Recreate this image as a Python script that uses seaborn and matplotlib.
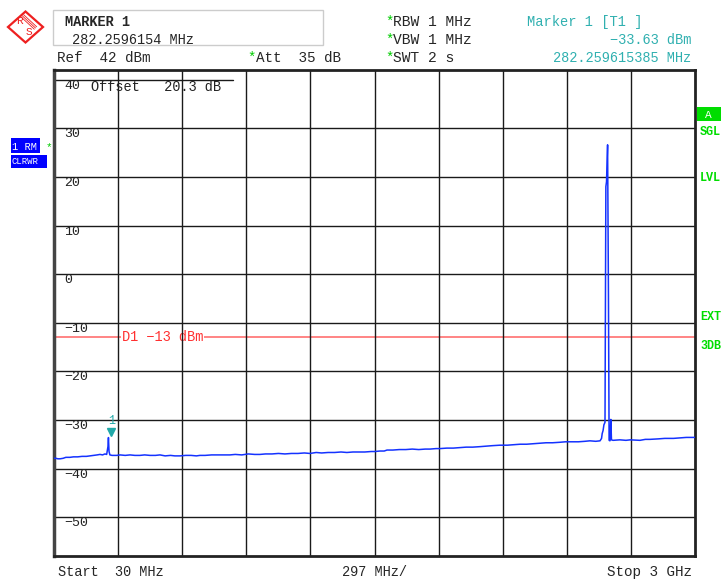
import numpy as np
import pandas as pd
import matplotlib
matplotlib.use("Agg")
import matplotlib.pyplot as plt
import matplotlib.transforms as mtransforms
from matplotlib.patches import Rectangle, Polygon
import seaborn as sns

# Spektrum verisi
freq_mhz = [30, 39, 48, 58, 72, 85, 104, 120, 140, 160, 180, 197, 215, 230, 243, 255, 266, 274,
            280, 282.26, 285, 289, 299, 320, 336, 360, 382, 405, 428, 450, 475, 500, 521, 545,
            570, 590, 614, 640, 665, 690, 706, 730, 760, 790, 820, 845, 870, 900, 930, 960,
            984, 1010, 1040, 1070, 1100, 1130, 1160, 1190, 1216, 1245, 1270, 1300, 1330, 1360,
            1387, 1415, 1440, 1470, 1500, 1517, 1540, 1560, 1573, 1600, 1630, 1660, 1690, 1720,
            1750, 1772, 1800, 1818, 1850, 1880, 1910, 1940, 1970, 2004, 2030, 2060, 2096, 2130,
            2160, 2190, 2220, 2250, 2282, 2310, 2340, 2374, 2400, 2430, 2460, 2490, 2513, 2540,
            2560, 2567, 2570, 2574, 2578, 2583, 2587, 2590, 2595, 2599, 2602, 2606, 2610, 2613,
            2620, 2652, 2680, 2700, 2745, 2770, 2791, 2830, 2860, 2900, 2930, 2960, 3000]
level_dbm = [-37.9, -37.9, -38.0, -38.0, -37.9, -37.7, -37.7, -37.6, -37.6, -37.5, -37.5, -37.4,
             -37.3, -37.2, -37.1, -37.2, -37.0, -37.1, -35.5, -33.63, -36.5, -37.2, -37.3, -37.3,
             -37.2, -37.3, -37.2, -37.3, -37.3, -37.2, -37.3, -37.3, -37.2, -37.4, -37.3, -37.4,
             -37.4, -37.3, -37.3, -37.4, -37.3, -37.3, -37.2, -37.2, -37.2, -37.2, -37.1, -37.2,
             -37.0, -37.1, -37.1, -37.0, -37.0, -36.9, -37.0, -36.9, -36.9, -36.8, -36.9, -36.7,
             -36.8, -36.7, -36.7, -36.6, -36.7, -36.6, -36.6, -36.6, -36.5, -36.5, -36.4, -36.4,
             -36.2, -36.2, -36.1, -36.1, -36.0, -36.1, -36.0, -36.0, -35.9, -35.9, -35.8, -35.8,
             -35.7, -35.6, -35.6, -35.5, -35.4, -35.3, -35.2, -35.2, -35.1, -35.0, -35.0, -34.9,
             -34.8, -34.7, -34.7, -34.6, -34.5, -34.5, -34.5, -34.4, -34.3, -34.4, -34.3, -33.8,
             -32.8, -32.2, -31.0, -30.5, 18.0, 19.0, 26.6, -4.3, -34.2, -34.3, -29.9, -34.1,
             -34.2, -34.1, -34.2, -34.1, -34.2, -34.0, -34.0, -33.9, -33.8, -33.8, -33.7, -33.6,
             -33.6]

y_grid = [30, 20, 10, 0, -10, -20, -30, -40, -50]
x_grid = [30 + 297 * k for k in range(1, 10)]
ref_level = 42
y_bottom = -58
x_start, x_stop = 30, 3000
d1_level = -13
marker_freq = 282.2596154
marker_level = -33.63

W, H = 722, 581
sns.set_style("white")
plt.rcParams["font.family"] = ["Liberation Mono", "DejaVu Sans Mono"]

fig = plt.figure(figsize=(W / 100, H / 100), dpi=100)
ax = fig.add_axes([54 / W, 25 / H, 641 / W, 486 / H])

def ft(x, y, s, **kw):
    # piksel koordinatlarıyla metin
    kw.setdefault("fontsize", 10)
    kw.setdefault("va", "center")
    fig.text(x / W, 1 - y / H, s, **kw)

df = pd.DataFrame({"f": freq_mhz, "lvl": level_dbm})

# D1 çizgisi
ax.axhline(d1_level, color="#ff7070", lw=1.2, zorder=1)

# ızgara
for xv in x_grid:
    ax.axvline(xv, color="#1a1a1a", lw=1.0, zorder=2)
for yv in y_grid:
    ax.axhline(yv, color="#1a1a1a", lw=1.0, zorder=2)
ax.axhline(40, xmax=(233 - 54) / 641, color="#1a1a1a", lw=1.0, zorder=2)

# iz
sns.lineplot(data=df, x="f", y="lvl", ax=ax, color="#1432ff", lw=1.1,
             estimator=None, sort=False, zorder=3)

# marker
tr = mtransforms.offset_copy(ax.transData, fig=fig, x=1.5, y=4, units="points")
ax.plot([marker_freq], [marker_level], marker="v", color="#20a8a8", ms=6,
        transform=tr, zorder=4, ls="none")
tr2 = mtransforms.offset_copy(ax.transData, fig=fig, x=2, y=12, units="points")
ax.text(marker_freq, marker_level, "1", color="#20a8a8", fontsize=8.5,
        transform=tr2, ha="center", va="center", zorder=4)

ax.set_xlim(x_start, x_stop)
ax.set_ylim(y_bottom, ref_level)
ax.set_xticks([])
ax.set_yticks([])
ax.set_xlabel("")
ax.set_ylabel("")
for s in ax.spines.values():
    s.set_color("#222222")
    s.set_linewidth(2)
ax.spines["left"].set_color("#444444")
ax.spines["left"].set_linewidth(2.5)

# y etiketleri
blend = mtransforms.blended_transform_factory(ax.transAxes, ax.transData)
for yv in [40] + y_grid:
    lab = str(yv).replace("-", "\u2212")
    ax.text(10 / 641, yv, lab, transform=blend, fontsize=9.5, va="top", ha="left",
            color="#222222", zorder=5)
ax.text(37 / 641, 40, "Offset   20.3 dB", transform=blend, fontsize=9.8, va="top",
        ha="left", color="#222222", zorder=5)
ax.text(68 / 641, d1_level, "D1 \u221213 dBm", transform=blend, fontsize=9.8,
        va="center", ha="left", color="#ff3030", zorder=1.5,
        bbox=dict(facecolor="white", edgecolor="none", pad=0.5))

# üst bilgi kutusu
fig.patches.append(Rectangle((53 / W, 1 - 45 / H), 270 / W, 35 / H, transform=fig.transFigure,
                             fill=False, edgecolor="#cccccc", lw=1))
ft(65, 22, "MARKER 1", fontweight="bold", fontsize=9.8)
ft(72, 40, "282.2596154 MHz", fontsize=9.8)
ft(57, 58, "Ref  42 dBm", fontsize=10.3)
ft(247, 58, "*", color="#00cc00")
ft(256, 58, "Att  35 dB", fontsize=10.3)
for yy, s in [(22, "RBW 1 MHz"), (40, "VBW 1 MHz"), (58, "SWT 2 s")]:
    ft(385, yy, "*", color="#00cc00")
    ft(393, yy, s, fontsize=10.5)
ft(527, 22, "Marker 1 [T1 ]", color="#30b0b0", fontsize=9.9)
ft(691, 40, "\u221233.63 dBm", color="#30b0b0", ha="right", fontsize=9.8)
ft(691, 58, "282.259615385 MHz", color="#30b0b0", ha="right", fontsize=9.8)

# alt etiketler
ft(58, 572, "Start  30 MHz", fontsize=9.8)
ft(375, 572, "297 MHz/", ha="center", fontsize=9.8)
ft(692, 572, "Stop 3 GHz", ha="right", fontsize=10.3)

# sol mavi kutular
fig.patches.append(Rectangle((11 / W, 1 - 153 / H), 29 / W, 15 / H, transform=fig.transFigure,
                             facecolor="#0000ff", edgecolor="none"))
fig.patches.append(Rectangle((11 / W, 1 - 168 / H), 36 / W, 13 / H, transform=fig.transFigure,
                             facecolor="#0000ff", edgecolor="none"))
ft(12, 147, "1 RM", color="white", fontsize=7.5)
ft(12, 162, "CLRWR", color="white", fontsize=6.5)
ft(46, 147, "*", color="#00cc00", fontsize=8)

# sağ yeşil etiketler
fig.patches.append(Rectangle((697 / W, 1 - 121 / H), 24 / W, 14 / H, transform=fig.transFigure,
                             facecolor="#00dd00", edgecolor="none"))
ft(708, 115, "A", color="white", fontsize=8, ha="center")
for yy, s in [(132, "SGL"), (178, "LVL"), (317, "EXT"), (346, "3DB")]:
    ft(700, yy, s, color="#00dd00", fontsize=8.5, fontweight="bold")

# R&S logosu
cx, cy, rx, ry = 25.5, 27, 17.5, 15.5
fig.patches.append(Polygon([((cx - rx) / W, 1 - cy / H), (cx / W, 1 - (cy - ry) / H),
                            ((cx + rx) / W, 1 - cy / H), (cx / W, 1 - (cy + ry) / H)],
                           closed=True, transform=fig.transFigure, fill=False,
                           edgecolor="#ee2020", lw=1.6))
for d in (-1.2, 0, 1.2):
    fig.lines.append(plt.Line2D([(cx - 3 + d) / W, (cx + 10 + d) / W],
                                [1 - (cy - 11 - d) / H, 1 - (cy + 1 - d) / H],
                                transform=fig.transFigure, color="#ee2020", lw=0.6))
ft(cx - 6, cy - 6, "R", color="#ee2020", fontsize=8, ha="center")
ft(cx + 3, cy + 5, "S", color="#ee2020", fontsize=8, ha="center")

fig.savefig("out.png", dpi=100)
